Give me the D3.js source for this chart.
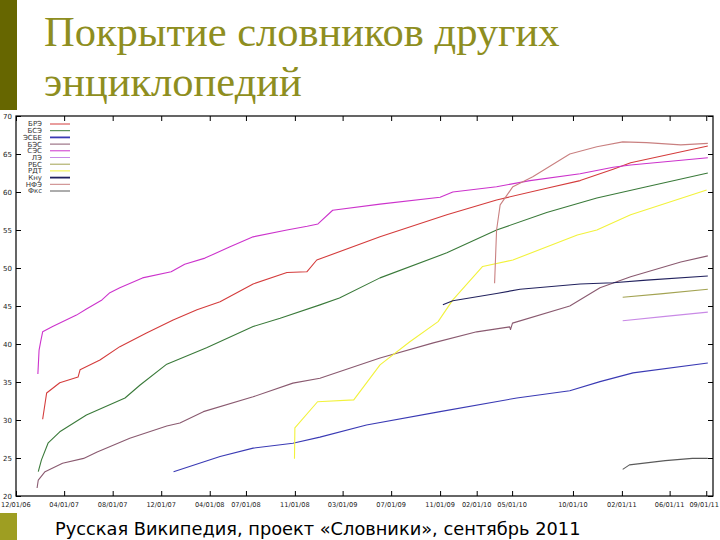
<!DOCTYPE html>
<html><head><meta charset="utf-8">
<script src="https://cdn.jsdelivr.net/npm/d3@7"></script>
<style>
html,body{margin:0;padding:0;background:#fff;}
svg{display:block;}
</style></head>
<body>
<svg id="chart" width="720" height="540"></svg>
<script>
// ---------- DATA ----------
const titleLines = ["Покрытие словников других", "энциклопедий"];
const caption = "Русская Википедия, проект «Словники», сентябрь 2011";

const seriesNames = ["БРЭ","БСЭ","ЭСБЕ","БЭС","СЭС","ЛЭ","РБС","РДТ","Кну","НФЭ","Фкс"];
const seriesColors = ["#d43c3c","#3a7a3a","#3a3ab4","#8a5a70","#cc33cc","#c98ae6","#a3a352","#f2f23c","#22225e","#c98080","#5a5a5a"];

const yTicks = [20,25,30,35,40,45,50,55,60,65,70];
const xTickLabels = ["12/01/06","04/01/07","08/01/07","12/01/07","04/01/08","07/01/08","11/01/08","03/01/09","07/01/09","11/01/09","02/01/10","05/01/10","10/01/10","02/01/11","06/01/11","09/01/11"];

const dataBRE = [["2007-02-06",30.1],["2007-02-16",33.55],["2007-03-21",34.9],["2007-05-06",35.65],["2007-05-11",36.6],["2007-06-30",37.9],["2007-08-19",39.65],["2007-10-25",41.45],["2007-12-31",43.15],["2008-02-29",44.5],["2008-04-27",45.55],["2008-07-19",47.9],["2008-10-12",49.4],["2008-12-01",49.5],["2008-12-26",51.05],["2009-06-03",54.1],["2009-11-18",57.0],["2010-03-23",58.95],["2010-07-27",60.5],["2010-10-19",61.5],["2011-01-10",63.0],["2011-02-23",63.85],["2011-09-05",66.05]];
const dataBSE = [["2007-01-26",23.2],["2007-02-03",24.75],["2007-02-20",27.0],["2007-03-21",28.45],["2007-05-27",30.65],["2007-09-01",32.9],["2007-10-09",34.6],["2007-12-15",37.35],["2008-03-24",39.5],["2008-07-19",42.3],["2008-09-25",43.4],["2009-01-03",45.15],["2009-02-21",46.05],["2009-06-03",48.7],["2009-11-18",52.0],["2010-03-23",55.0],["2010-07-27",57.3],["2010-11-30",59.2],["2011-04-04",60.7],["2011-09-05",62.5]];
const dataESBE = [["2008-01-01",23.2],["2008-04-27",25.2],["2008-07-19",26.3],["2008-10-27",26.95],["2009-01-03",27.75],["2009-04-30",29.35],["2009-11-01",31.1],["2010-05-13",32.9],["2010-09-23",33.85],["2010-12-08",35.05],["2011-03-01",36.2],["2011-09-05",37.5]];
const dataBES = [["2007-01-23",21.05],["2007-01-26",22.1],["2007-02-12",23.2],["2007-03-28",24.3],["2007-05-20",24.95],["2007-06-23",25.8],["2007-09-13",27.6],["2007-12-15",29.2],["2008-01-17",29.6],["2008-03-16",31.1],["2008-07-19",33.05],["2008-10-27",34.85],["2009-01-03",35.5],["2009-06-03",38.15],["2009-10-15",40.15],["2010-02-01",41.6],["2010-04-25",42.25],["2010-04-27",41.9],["2010-05-02",42.75],["2010-09-23",45.0],["2010-12-08",47.4],["2011-02-23",48.85],["2011-06-29",50.8],["2011-09-05",51.6]];
const dataSES = [["2007-01-25",36.05],["2007-01-28",39.2],["2007-02-01",40.3],["2007-02-06",41.6],["2007-03-03",42.3],["2007-05-02",43.8],["2007-05-27",44.6],["2007-07-05",45.8],["2007-07-25",46.75],["2007-08-19",47.4],["2007-10-15",48.7],["2007-12-26",49.5],["2008-01-29",50.5],["2008-03-20",51.3],["2008-05-22",52.8],["2008-07-19",54.1],["2008-10-12",55.0],["2008-12-02",55.5],["2008-12-29",55.8],["2009-02-04",57.6],["2009-06-03",58.4],["2009-11-01",59.3],["2009-12-03",60.0],["2010-03-23",60.7],["2010-06-15",61.5],["2010-10-19",62.4],["2011-01-10",63.25],["2011-02-23",63.55],["2011-09-05",64.5]];
const dataLE = [["2011-02-03",43.05],["2011-05-15",43.6],["2011-09-05",44.2]];
const dataRBS = [["2011-02-03",46.15],["2011-05-09",46.6],["2011-09-05",47.2]];
const dataRDT = [["2008-10-31",24.9],["2008-11-01",28.95],["2008-12-28",32.4],["2009-03-29",32.65],["2009-06-03",37.25],["2009-08-17",40.3],["2009-10-27",42.95],["2009-12-03",45.8],["2010-02-16",50.2],["2010-05-03",51.05],["2010-10-12",54.35],["2010-11-30",55.0],["2011-02-23",57.0],["2011-09-02",60.25]];
const dataKnu = [["2009-11-08",45.15],["2009-12-03",45.7],["2010-03-23",46.65],["2010-05-21",47.2],["2010-10-19",47.9],["2011-01-10",48.05],["2011-04-04",48.4],["2011-09-05",48.95]];
const dataNFE = [["2010-03-18",48.0],["2010-03-23",55.0],["2010-04-01",58.3],["2010-05-03",60.7],["2010-06-22",62.0],["2010-09-23",65.0],["2010-11-30",65.95],["2011-02-03",66.6],["2011-04-04",66.5],["2011-06-29",66.2],["2011-09-05",66.4]];
const dataFks = [["2011-02-03",23.5],["2011-02-20",24.1],["2011-05-21",24.65],["2011-07-28",24.95],["2011-09-05",24.95]];

const seriesData = [dataBRE,dataBSE,dataESBE,dataBES,dataSES,dataLE,dataRBS,dataRDT,dataKnu,dataNFE,dataFks];

// ---------- DRAW ----------
const svg = d3.select("#chart");
const parseISO = d3.utcParse("%Y-%m-%d");
const parseTick = d3.utcParse("%m/%d/%y");

// slide decoration
svg.append("rect").attr("x",0).attr("y",0).attr("width",17).attr("height",110).attr("fill","#666600");
svg.append("rect").attr("x",0).attr("y",513).attr("width",17).attr("height",27).attr("fill","#9e9e22");

svg.selectAll("text.title").data(titleLines).enter().append("text")
  .attr("class","title")
  .attr("x",44).attr("y",(d,i)=>46+i*50)
  .attr("font-family","'Liberation Serif','DejaVu Serif',serif")
  .attr("font-size",42.5).attr("fill","#8e8e20")
  .text(d=>d);

svg.append("text").attr("x",55).attr("y",535)
  .attr("font-family","'DejaVu Sans',Verdana,sans-serif")
  .attr("font-size",17.8).attr("fill","#000")
  .text(caption);

// scales
const L=16,R=713,T=116,B=496;
const x = d3.scaleUtc().domain([parseISO("2006-12-01"), parseISO("2011-09-18")]).range([L,R]);
const y = d3.scaleLinear().domain([20,70]).range([B,T]);

const tickDates = xTickLabels.map(parseTick);
const tickFont = "'DejaVu Sans',sans-serif";

// axes ticks (inward, mirrored like gnuplot)
const gl = svg.append("g").attr("transform",`translate(${L},0)`)
  .call(d3.axisRight(y).tickValues(yTicks).tickSize(5).tickFormat(""));
const gr = svg.append("g").attr("transform",`translate(${R},0)`)
  .call(d3.axisLeft(y).tickValues(yTicks).tickSize(5).tickFormat(""));
const gb = svg.append("g").attr("transform",`translate(0,${B})`)
  .call(d3.axisTop(x).tickValues(tickDates).tickSize(5).tickFormat(""));
const gt = svg.append("g").attr("transform",`translate(0,${T})`)
  .call(d3.axisBottom(x).tickValues(tickDates).tickSize(5).tickFormat(""));
[gl,gr,gb,gt].forEach(g=>{g.select(".domain").remove(); g.selectAll("line").attr("stroke","#000").attr("stroke-width",1);});

svg.selectAll("text.ylab").data(yTicks).enter().append("text")
  .attr("class","ylab").attr("x",12).attr("y",d=>y(d)+2.5)
  .attr("text-anchor","end").attr("font-family",tickFont).attr("font-size",7).attr("fill","#222")
  .text(d=>d);
svg.selectAll("text.xlab").data(tickDates).enter().append("text")
  .attr("class","xlab")
  .attr("x",(d,i)=> i===0 ? 1 : (i===tickDates.length-1 ? 719 : x(d)))
  .attr("y",507)
  .attr("text-anchor",(d,i)=> i===0 ? "start" : (i===tickDates.length-1 ? "end" : "middle"))
  .attr("font-family",tickFont).attr("font-size",6.6).attr("fill","#222")
  .text((d,i)=>xTickLabels[i]);

// frame
svg.append("rect").attr("x",L).attr("y",T).attr("width",R-L).attr("height",B-T)
  .attr("fill","none").attr("stroke","#000").attr("stroke-width",1.2);

// lines
const line = d3.line().x(d=>x(parseISO(d[0]))).y(d=>y(d[1]));
svg.append("g").selectAll("path").data(seriesData).enter().append("path")
  .attr("d",line).attr("fill","none")
  .attr("stroke",(d,i)=>seriesColors[i]).attr("stroke-width",1.1)
  .attr("stroke-linejoin","round");

// legend
const lg = svg.append("g");
seriesNames.forEach((n,i)=>{
  const yy = 124 + i*6.7;
  lg.append("text").attr("x",42).attr("y",yy+2.4).attr("text-anchor","end")
    .attr("font-family",tickFont).attr("font-size",7).attr("fill","#333").text(n);
  lg.append("line").attr("x1",50).attr("x2",70).attr("y1",yy).attr("y2",yy)
    .attr("stroke",seriesColors[i]).attr("stroke-width",(i===2||i===8)?1.8:1);
});
</script>
</body></html>
